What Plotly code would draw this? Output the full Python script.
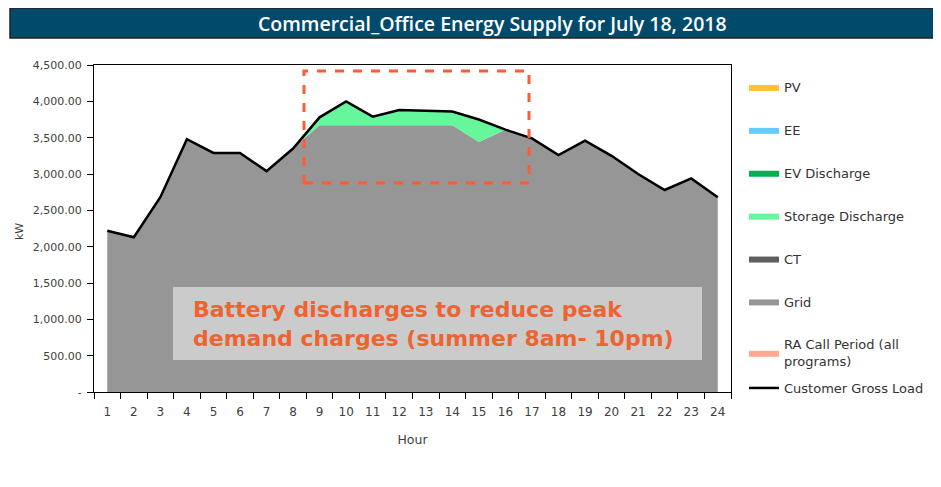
import plotly.graph_objects as go

# ---------------------------------------------------------------------------
# Data (kW by hour)
# ---------------------------------------------------------------------------
hours = [str(h) for h in range(1, 25)]
gross_load = [2220, 2130, 2680, 3480, 3290, 3290, 3040, 3350, 3780, 4000, 3790, 3880,
              3870, 3860, 3750, 3610, 3490, 3260, 3460, 3250, 3000, 2780, 2940, 2680]
grid = [2220, 2130, 2680, 3480, 3290, 3290, 3040, 3350, 3670, 3670, 3670, 3670,
        3670, 3670, 3440, 3610, 3490, 3260, 3460, 3250, 3000, 2780, 2940, 2680]
storage = [0, 0, 0, 0, 0, 0, 0, 0, 110, 330, 120, 210,
           200, 190, 310, 0, 0, 0, 0, 0, 0, 0, 0, 0]
zeros = [0] * 24  # PV, EE, EV, CT, RA have no output on this day

y_ticks = [0, 500, 1000, 1500, 2000, 2500, 3000, 3500, 4000, 4500]
y_ticktext = ["-"] + [f"{v:,.2f}" for v in y_ticks[1:]]

# ---------------------------------------------------------------------------
# Pixel helpers: coordinates are measured on the 941x487 screenshot; the page
# body has an 8px margin, so the figure itself is shifted by OFF.
# ---------------------------------------------------------------------------
OFF = 8
W, H = 941 - OFF, 487 - OFF
PL, PR, PT, PB = 94 - OFF, 731 - OFF, 65 - OFF, 392 - OFF


def px_x(p):
    return (p - OFF - PL) / (PR - PL)


def px_y(p):
    return (PB - (p - OFF)) / (PB - PT)


FONT = "DejaVu Sans"
TXT = "#404040"

fig = go.Figure()

fig.add_trace(go.Scatter(x=hours, y=grid, name="Grid", stackgroup="s",
                         line=dict(width=0), fillcolor="#969696",
                         legendgroup="grid", legendrank=6))
fig.add_trace(go.Scatter(x=hours, y=storage, name="Storage Discharge", stackgroup="s",
                         line=dict(width=0), fillcolor="#66f69c",
                         legendgroup="stor", legendrank=4))
others = [("PV", "#ffc332", 1), ("EE", "#66ccff", 2), ("EV Discharge", "#00b050", 3),
          ("CT", "#5f5f5f", 5), ("RA Call Period (all<br>programs)", "#ffaa90", 7)]
for name, col, rank in others:
    fig.add_trace(go.Scatter(x=hours, y=zeros, name=name, stackgroup="s",
                             line=dict(width=0), fillcolor=col,
                             legendgroup=name, legendrank=rank))
fig.add_trace(go.Scatter(x=hours, y=gross_load, name="Customer Gross Load", mode="lines",
                         line=dict(color="black", width=2.5), legend="legend2"))

# title bar
fig.add_shape(type="rect", xref="paper", yref="paper",
              x0=px_x(10), x1=px_x(945), y0=px_y(38), y1=px_y(8),
              fillcolor="#024a6b", line=dict(color="#222222", width=1.5))
fig.add_annotation(xref="paper", yref="paper", x=px_x(492), y=px_y(23),
                   text="Commercial_Office Energy Supply for July 18, 2018",
                   showarrow=False, xanchor="center", yanchor="middle",
                   font=dict(family="Open Sans", size=19.5, color="white", weight=600))

# highlight box around the discharge window
fig.add_shape(type="rect", xref="paper", yref="paper",
              x0=px_x(304), x1=px_x(529), y0=px_y(183), y1=px_y(71),
              line=dict(color="#ff5b35", width=3, dash="dash"))

# callout
fig.add_shape(type="rect", xref="paper", yref="paper",
              x0=px_x(173), x1=px_x(702), y0=px_y(360), y1=px_y(287),
              fillcolor="#cbcbcb", line=dict(width=0))
fig.add_annotation(xref="paper", yref="paper", x=px_x(191), y=px_y(324),
                   text="Battery discharges to reduce peak<br>demand charges (summer 8am- 10pm)",
                   showarrow=False, xanchor="left", yanchor="middle", align="left",
                   font=dict(family=FONT, size=22, color="#ee6431", weight="bold"))

# y-axis title
fig.add_annotation(xref="paper", yref="paper", x=px_x(19), y=px_y(232),
                   text="kW", textangle=-90, showarrow=False, xanchor="center",
                   font=dict(family=FONT, size=11, color=TXT))

legend_font = dict(family=FONT, size=13, color="#333333")
fig.update_layout(
    width=W, height=H,
    margin=dict(l=PL, r=W - PR, t=PT, b=H - PB),
    paper_bgcolor="white", plot_bgcolor="white",
    showlegend=True,
    legend=dict(x=px_x(744), y=px_y(72), xanchor="left", yanchor="top",
                font=legend_font, maxheight=380,
                tracegroupgap=23, traceorder="grouped", bgcolor="rgba(0,0,0,0)"),
    legend2=dict(x=px_x(744), y=px_y(388), xanchor="left", yanchor="middle",
                 font=legend_font, bgcolor="rgba(0,0,0,0)"),
    xaxis=dict(type="category", range=[-0.5, 23.5], tickson="boundaries",
               ticks="outside", ticklen=6, tickcolor="black",
               showline=True, linecolor="black", linewidth=1, mirror=True,
               showgrid=False, zeroline=False, ticklabelstandoff=9,
               tickfont=dict(family=FONT, size=12, color=TXT),
               title=dict(text="Hour", standoff=16,
                          font=dict(family=FONT, size=12.5, color=TXT))),
    yaxis=dict(range=[0, 4500], tickvals=y_ticks, ticktext=y_ticktext,
               ticks="outside", ticklen=6, tickcolor="black",
               showline=True, linecolor="black", linewidth=1, mirror=True,
               showgrid=False, zeroline=False, ticklabelstandoff=3,
               tickfont=dict(family=FONT, size=11, color=TXT)),
)

fig.write_html("out.html")
